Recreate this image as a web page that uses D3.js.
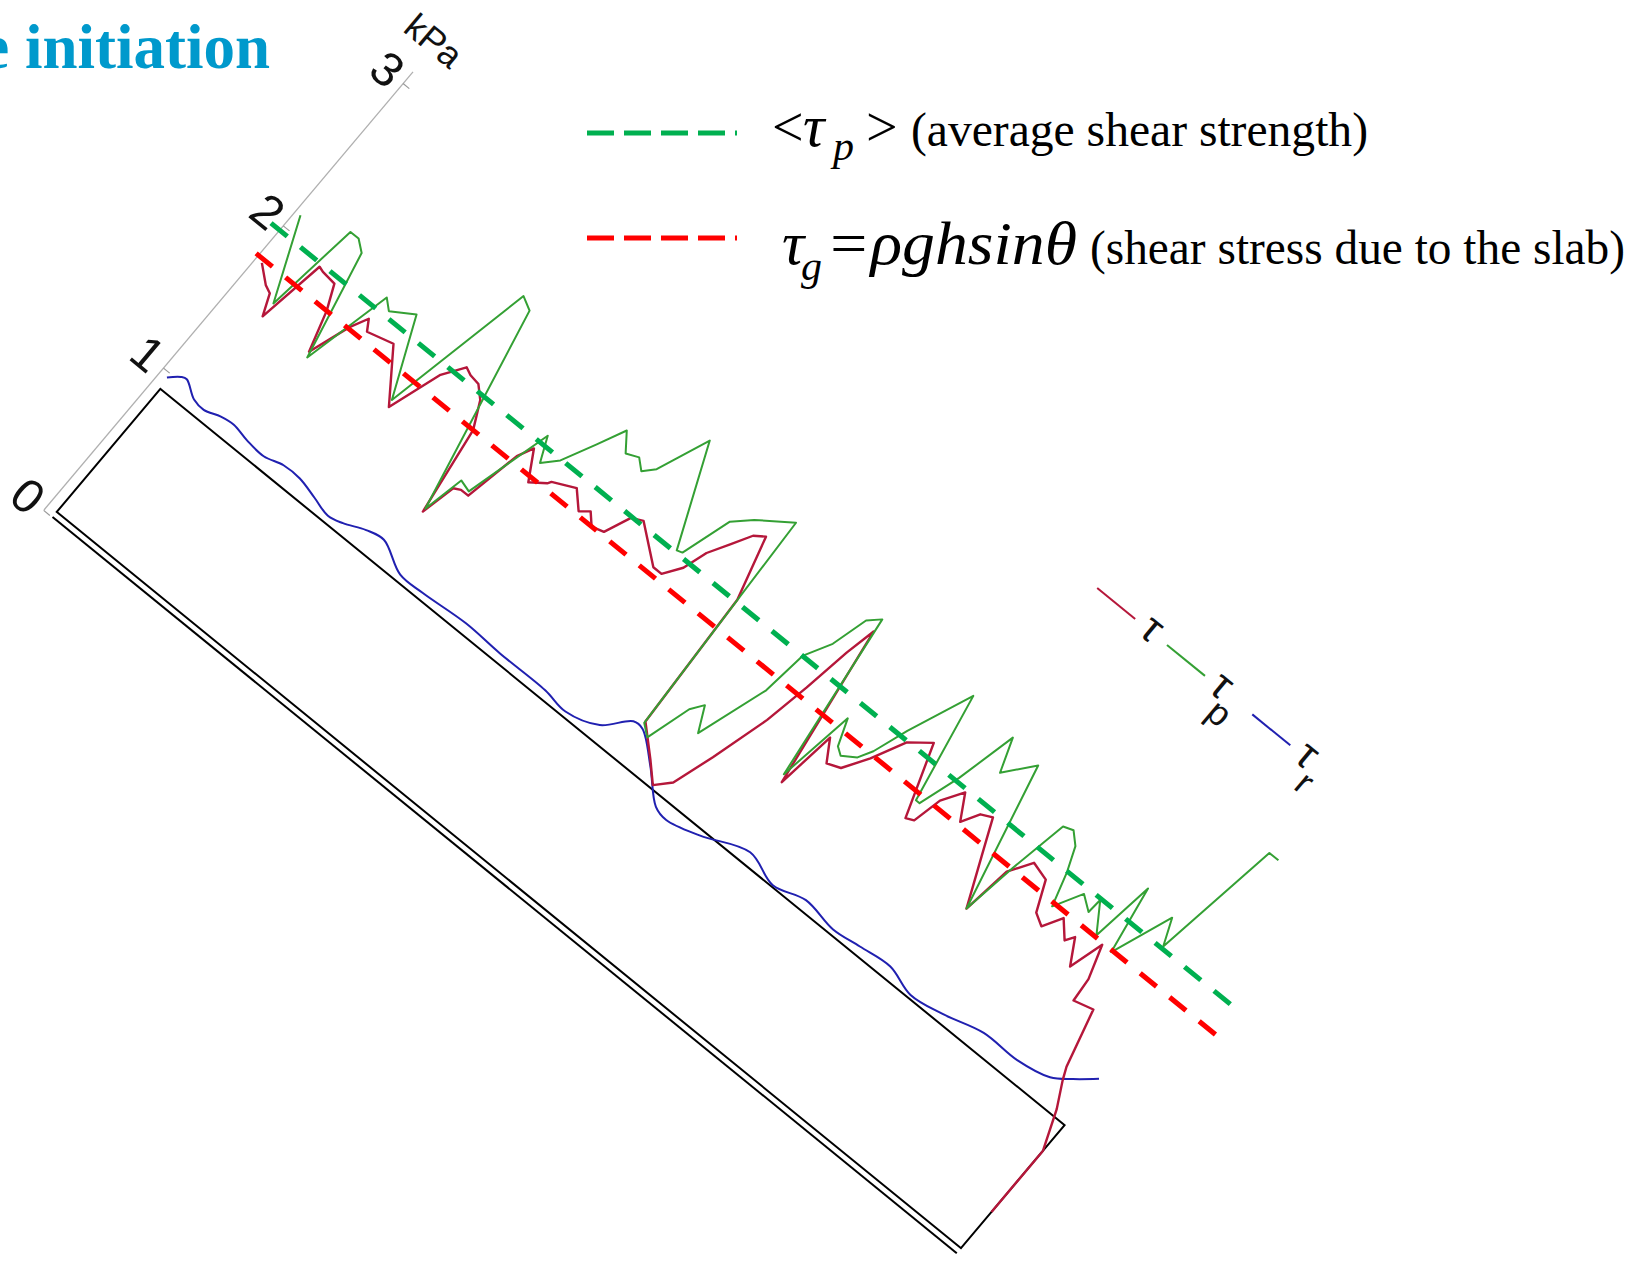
<!DOCTYPE html>
<html>
<head>
<meta charset="utf-8">
<script src="https://cdn.jsdelivr.net/npm/d3@7"></script>
<style>
  body { margin: 0; background: #fff; }
  svg { display: block; }
</style>
</head>
<body>
<div id="chart"></div>
<script>

// distance along the slope (m) and stress (kPa)
var tauData = [[-0.03,1.77],[0.12,1.69],[0.19,1.67],[0.27,1.55],[0.37,1.95],[0.42,1.94],[0.56,1.93],[0.66,1.79],
  [0.77,1.56],[0.90,1.80],[0.98,1.90],[1.04,1.84],[1.16,1.86],[1.28,1.88],[1.60,1.60],[1.76,1.91],[1.89,2.03],
  [1.96,2.01],[2.06,2.00],[2.16,1.94],[2.28,1.79],[2.40,1.28],[2.47,1.48],[2.53,1.50],[2.61,1.50],[2.71,1.83],
  [2.78,1.92],[2.93,1.76],[3.06,1.82],[3.08,1.84],[3.28,1.90],[3.42,1.81],[3.50,1.85],[3.59,1.79],[3.70,1.81],
  [3.80,1.96],[3.90,1.99],[4.22,1.83],[4.31,1.83],[4.42,1.93],[4.49,2.07],[4.60,2.19],[4.70,2.30],[4.79,2.34],
  [4.95,1.98],[5.02,1.16],[5.26,1.02],[5.42,0.92],[5.54,1.00],[5.66,1.24],[5.81,1.58],[5.89,1.85],[5.96,2.13],
  [6.02,2.31],[6.25,1.37],[6.32,1.72],[6.44,1.60],[6.56,1.63],[6.70,1.77],[6.85,1.96],[7.03,2.05],[7.26,1.64],
  [7.33,1.66],[7.39,1.83],[7.51,1.95],[7.64,1.81],[7.73,1.91],[7.83,1.94],[7.97,1.74],[8.16,1.47],[8.22,1.76],
  [8.35,1.89],[8.52,1.86],[8.64,1.69],[8.75,1.65],[8.85,1.76],[8.98,1.67],[9.03,1.72],[9.16,1.58],[9.25,1.78],
  [9.35,1.59],[9.37,1.45],[9.55,1.48],[9.69,1.15],[9.74,1.08],[9.86,0.94],[10.0,0.72],[10.0,0.29]];

var tauPData = [[-0.04,2.10],[0.27,1.64],[0.38,2.20],[0.47,2.20],[0.57,2.15],[0.79,1.53],[0.98,2.05],[1.07,2.00],
  [1.27,2.08],[1.58,1.64],[1.87,2.52],[1.99,2.48],[2.40,1.30],[2.48,1.54],[2.59,1.52],[2.80,2.02],[2.90,1.88],
  [3.02,1.96],[3.17,2.15],[3.29,2.31],[3.41,2.21],[3.52,2.24],[3.61,2.19],[3.70,2.25],[3.89,2.55],[4.28,1.98],
  [4.33,1.99],[4.47,2.28],[4.62,2.37],[4.91,2.50],[5.02,1.15],[5.12,1.10],[5.24,1.36],[5.32,1.43],[5.43,1.29],
  [5.64,1.70],[5.69,1.97],[5.82,2.12],[5.91,2.33],[6.01,2.39],[6.22,1.41],[6.33,1.86],[6.42,1.71],[6.49,1.68],
  [6.61,1.73],[6.68,1.81],[6.79,2.01],[7.03,2.38],[7.23,1.75],[7.27,1.75],[7.39,1.99],[7.52,2.34],[7.63,2.15],
  [7.84,2.31],[8.16,1.47],[8.24,1.80],[8.34,2.14],[8.43,2.16],[8.53,2.10],[8.62,1.96],[8.71,1.77],[8.85,1.93],
  [8.98,1.87],[8.99,1.96],[9.16,1.80],[9.24,2.17],[9.35,1.78],[9.56,2.13],[9.66,1.98],[9.84,2.73],[9.94,2.73]];

var tauRData = [[-0.02,0.97],[0.07,1.02],[0.12,1.03],[0.28,0.97],[0.40,0.96],[0.55,0.99],[0.68,1.00],[0.85,0.98],
  [1.05,0.97],[1.23,1.00],[1.41,1.00],[1.61,0.97],[1.80,0.94],[1.94,0.96],[2.13,1.01],[2.30,1.03],[2.60,0.94],
  [2.85,0.94],[3.30,0.96],[3.69,0.95],[4.19,0.95],[4.44,0.93],[4.74,0.99],[4.94,1.12],[5.04,1.12],[5.30,0.99],
  [5.56,0.84],[5.70,0.82],[6.01,0.87],[6.43,0.97],[6.76,0.91],[7.06,0.96],[7.40,0.93],[7.67,0.95],[7.98,0.97],
  [8.27,0.92],[8.59,0.95],[8.96,1.01],[9.33,1.01],[9.64,1.05],[9.80,1.12],[9.97,1.21]];

// average shear strength and slab shear stress (dashed lines)
var meanTauP = 1.967;
var meanTauPExtent = [-0.19, 10.48];
var tauG = 1.79;
var tauGExtent = [-0.12, 10.55];

// slab drawing: along-slope extent (m) and bottom / top (kPa units)
var slabExtent = [0, 10];
var slabBottom = 0.035, slabTop = 0.90, groundLevel = 0;

var kpaTicks = [0, 1, 2, 3];
var kpaAxisTop = 3.08;

var colors = {tau: '#b5173a', tauP: '#34a034', tauR: '#2020b0', dashP: '#00b050', dashG: '#ff0000'};

var width = 1639, height = 1261;

var svg = d3.select('#chart')
  .append('svg')
    .attr('width', width)
    .attr('height', height);

// plot frame tilted with the slope: local x along the slope, local -y is the kPa direction
var plot = svg.append('g')
    .attr('transform', 'matrix(0.7755,0.6314,-0.6441,0.7649,44,510)');

var x = d3.scaleLinear().domain([0, 10]).range([11, 1177]);
var y = d3.scaleLinear().domain([0, 3]).range([0, -558]);

// kPa axis
plot.append('line')
  .attr('x1', 0).attr('x2', 0)
  .attr('y1', y(0)).attr('y2', y(kpaAxisTop))
  .attr('stroke', '#b0b0b0')
  .attr('stroke-width', 1.3);

var yAxis = plot.append('g')
  .attr('class', 'yaxis')
  .call(d3.axisLeft(y).tickValues(kpaTicks).tickSizeInner(-8).tickSizeOuter(0)
    .tickPadding(8).tickFormat(d3.format('d')));
yAxis.select('.domain').remove();
yAxis.selectAll('.tick line').attr('stroke', '#999').attr('stroke-width', 1.2);
yAxis.selectAll('.tick text')
  .attr('font-size', 48)
  .attr('font-family', '"Liberation Sans", Arial, sans-serif')
  .attr('fill', '#111');

plot.append('text')
  .attr('x', -4)
  .attr('y', y(3.28))
  .attr('text-anchor', 'middle')
  .attr('dominant-baseline', 'central')
  .attr('font-family', '"Liberation Sans", Arial, sans-serif')
  .attr('font-size', 36)
  .attr('fill', '#111')
  .text('kPa');

// slab and bed
plot.append('rect')
  .attr('x', x(slabExtent[0]))
  .attr('y', y(slabTop))
  .attr('width', x(slabExtent[1]) - x(slabExtent[0]))
  .attr('height', y(slabBottom) - y(slabTop))
  .attr('fill', 'none')
  .attr('stroke', '#000')
  .attr('stroke-width', 2);

plot.append('line')
  .attr('x1', x(slabExtent[0])).attr('x2', x(slabExtent[1]))
  .attr('y1', y(groundLevel)).attr('y2', y(groundLevel))
  .attr('stroke', '#000')
  .attr('stroke-width', 2);

var line = d3.line()
  .x(function(d) { return x(d[0]); })
  .y(function(d) { return y(d[1]); });

var smooth = d3.line()
  .curve(d3.curveCatmullRom)
  .x(function(d) { return x(d[0]); })
  .y(function(d) { return y(d[1]); });

plot.append('path')
  .datum(tauRData)
  .attr('d', smooth)
  .attr('fill', 'none')
  .attr('stroke', colors.tauR)
  .attr('stroke-width', 2);

plot.append('path')
  .datum(tauData)
  .attr('d', line)
  .attr('fill', 'none')
  .attr('stroke', colors.tau)
  .attr('stroke-width', 2.4)
  .attr('stroke-linejoin', 'round');

plot.append('path')
  .datum(tauPData)
  .attr('d', line)
  .attr('fill', 'none')
  .attr('stroke', colors.tauP)
  .attr('stroke-width', 2)
  .attr('stroke-linejoin', 'round');

// dashed reference levels
plot.append('path')
  .datum(meanTauPExtent.map(function(d) { return [d, meanTauP]; }))
  .attr('d', line)
  .attr('stroke', colors.dashP)
  .attr('stroke-width', 5)
  .attr('stroke-dasharray', '21,17');

plot.append('path')
  .datum(tauGExtent.map(function(d) { return [d, tauG]; }))
  .attr('d', line)
  .attr('stroke', colors.dashG)
  .attr('stroke-width', 5)
  .attr('stroke-dasharray', '21,17');

// legend inside the tilted plot
var legendItems = [
  {sub: '', color: colors.tau, start: 856},
  {sub: 'p', color: colors.tauP, start: 946},
  {sub: 'r', color: colors.tauR, start: 1056}
];
var legendY = y(3.25);
var lg = plot.selectAll('.legend')
  .data(legendItems)
  .enter().append('g')
    .attr('class', 'legend');
lg.append('line')
  .attr('x1', function(d) { return d.start; })
  .attr('x2', function(d) { return d.start + 49; })
  .attr('y1', legendY).attr('y2', legendY)
  .attr('stroke', function(d) { return d.color; })
  .attr('stroke-width', 2);
lg.append('text')
  .attr('x', function(d) { return d.start + 68; })
  .attr('y', legendY + 10)
  .attr('text-anchor', 'middle')
  .attr('font-family', '"Liberation Sans", Arial, sans-serif')
  .attr('font-size', 42)
  .attr('fill', '#111')
  .text('τ');
lg.append('text')
  .attr('x', function(d) { return d.start + 84; })
  .attr('y', legendY + 32)
  .attr('text-anchor', 'middle')
  .attr('font-family', '"Liberation Sans", Arial, sans-serif')
  .attr('font-size', 36)
  .attr('fill', '#111')
  .text(function(d) { return d.sub; });

// title fragment
svg.append('text')
  .attr('x', 270)
  .attr('y', 68)
  .attr('text-anchor', 'end')
  .attr('font-family', '"Liberation Serif", "Times New Roman", serif')
  .attr('font-weight', 'bold')
  .attr('font-size', 63)
  .attr('fill', '#0099cc')
  .text('e initiation');

// legend of the dashed lines
var serif = '"Liberation Serif", "Times New Roman", serif';
svg.append('line')
  .attr('x1', 587).attr('x2', 737).attr('y1', 133).attr('y2', 133)
  .attr('stroke', colors.dashP).attr('stroke-width', 5).attr('stroke-dasharray', '27,10');
svg.append('line')
  .attr('x1', 587).attr('x2', 737).attr('y1', 238).attr('y2', 238)
  .attr('stroke', colors.dashG).attr('stroke-width', 5).attr('stroke-dasharray', '27,10');

function label(txt, xx, yy, size, italic, len) {
  var t = svg.append('text')
    .attr('x', xx).attr('y', yy)
    .attr('font-family', serif)
    .attr('font-size', size)
    .attr('font-style', italic ? 'italic' : 'normal')
    .attr('fill', '#000')
    .text(txt);
  if (len) t.attr('textLength', len).attr('lengthAdjust', 'spacingAndGlyphs');
  return t;
}

label('<', 772, 146, 56, false);
label('τ', 803, 146, 60, true);
label('p', 833, 160, 42, true);
label('>', 866, 146, 56, false);
label('(average shear strength)', 911, 146, 47.5, false, 457);

label('τ', 782, 264, 62, true);
label('g', 801, 280, 42, true);
label('=ρghsinθ', 826, 264, 62, true, 251);
label('(shear stress due to the slab)', 1090, 264, 47.5, false, 535);

</script>
</body>
</html>
